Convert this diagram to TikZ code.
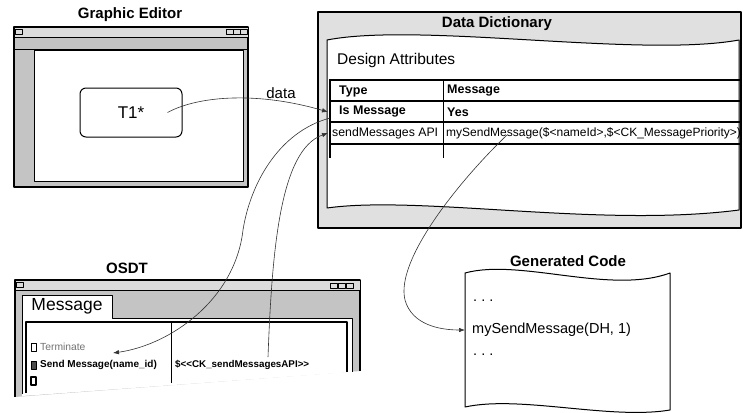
\documentclass[tikz,border=0pt]{standalone}
\usepackage{fontspec}
\setmainfont{Liberation Sans}
\usetikzlibrary{arrows.meta}

\begin{document}
\begin{tikzpicture}[x=1pt,y=-1pt, line join=round, font=\fontsize{12.5}{14}\selectfont,
    title/.style={font=\fontsize{15}{17}\selectfont\bfseries},
    cell/.style={anchor=west, inner sep=0pt},
    small/.style={anchor=west, inner sep=0pt, font=\fontsize{10.3}{12}\selectfont},
    link/.style={line width=0.6pt, draw=black!80, -{Latex[length=6pt,width=4.5pt]}}]
    \definecolor{winGray}{RGB}{196,196,196}
    \definecolor{barGray}{RGB}{220,220,220}
    \definecolor{dictGray}{RGB}{224,224,224}

    \newcommand{\winbtn}[2]{
        \draw[fill=barGray, line width=0.6pt] (#1,#2) rectangle ++(7,5);
    }

    \useasboundingbox (0,0) rectangle (743,412);

    % Graphic Editor window
    \node[title] (geTitle) at (130,15) {Graphic Editor};
    \draw[fill=winGray, line width=1.6pt] (14,27) rectangle (248,187);
    \draw[fill=barGray, line width=0.8pt] (14,27) rectangle (248,37);
    \draw[line width=0.8pt] (14,49) -- (248,49);
    \draw[fill=white, line width=0.8pt] (34,50) rectangle (243,181);
    \winbtn{15}{29}
    \foreach \x in {226,233,240} {\winbtn{\x}{29}}
    \node[draw, rounded corners=6pt, line width=1pt, minimum width=102pt, minimum height=49pt,
          font=\fontsize{17}{19}\selectfont] (t1) at (131,112.5) {T1*};

    % Data Dictionary
    \draw[fill=dictGray, line width=1.6pt] (318,12) rectangle (741,228);
    \node[title] (ddTitle) at (497,24) {Data Dictionary};
    \draw[fill=white, line width=1pt] (327,40) .. controls (420,22) and (640,58) .. (739,40)
        -- (739,210) .. controls (600,228) and (420,195) .. (327,208) -- cycle;
    \node[cell, font=\fontsize{15.5}{17}\selectfont] (designAttr) at (337,60) {Design Attributes};

    \foreach \y in {80,101,122,144} {\draw[line width=1.1pt] (330,\y) -- (741,\y);}
    \draw[line width=2.4pt] (330,79) -- (330,158);
    \draw[line width=1pt] (443,80) -- (443,158);
    \node[cell, font=\fontsize{12.5}{14}\selectfont\bfseries] (typeHd) at (339,91) {Type};
    \node[cell, font=\fontsize{12.5}{14}\selectfont\bfseries] (msgHd) at (447,91) {Message};
    \node[cell, font=\fontsize{12.5}{14}\selectfont\bfseries] (isMsg) at (339,112) {Is Message};
    \node[cell, font=\fontsize{12.5}{14}\selectfont\bfseries] (isYes) at (447,112) {Yes};
    \node[cell, font=\fontsize{12.3}{14}\selectfont] (sendApi) at (332,133) {sendMessages API};
    \node[cell, font=\fontsize{12}{14}\selectfont] (apiVal) at (446,133)
        {mySendMessage(\$<nameId>,\$<CK\_MessagePriority>)};

    % OSDT window
    \node[title] (osdtTitle) at (127,268) {OSDT};
    \fill[winGray] (15,280) -- (360,280) -- (360,371) -- (15,397) -- cycle;
    \fill[white] (22,318) -- (22,295) -- (112,295) -- (112,318) -- (352,318)
        -- (352,372) -- (22,396) -- cycle;
    \draw[line width=1.6pt] (15,397) -- (15,280) -- (360,280) -- (360,371);
    \draw[fill=barGray, line width=0.8pt] (15,280) rectangle (360,290);
    \winbtn{16}{282}
    \foreach \x in {330,338,346} {\winbtn{\x}{283}}
    \draw[line width=0.8pt] (22,394) -- (22,295) -- (112,295) -- (112,318) -- (352,318) -- (352,372);
    \node[font=\fontsize{17.5}{19}\selectfont] (tabMsg) at (67,306) {Message};
    \draw[line width=1.2pt] (26,393) -- (26,322) -- (347,322) -- (347,372);
    \draw[line width=0.9pt] (171,322) -- (171,383);

    \draw[line width=0.8pt] (31,343) rectangle (36,351);
    \node[small, text=black!55] (termItem) at (40,347) {Terminate};
    \draw[fill=black!70, line width=0.8pt] (31,361) rectangle (36,369);
    \node[small, font=\fontsize{10}{12}\selectfont\bfseries] (sendItem) at (40,365) {Send Message(name\_id)};
    \draw[line width=1.2pt] (31,377) rectangle (36,385);
    \node[small, font=\fontsize{9.8}{12}\selectfont\bfseries] (ckApi) at (175,365) {\$<{}<CK\_sendMessagesAPI>{}>};

    % Generated Code
    \node[title] (gcTitle) at (568,261) {Generated Code};
    \draw[fill=white, line width=1pt] (465,273) .. controls (520,258) and (610,295) .. (670,273)
        -- (670,410) .. controls (610,420) and (520,395) .. (465,407) -- cycle;
    \node[cell, font=\fontsize{14.5}{16}\selectfont] (dotsTop) at (473,301) {.\ .\ .};
    \node[anchor=west, inner xsep=7pt, inner ysep=0pt, font=\fontsize{14.5}{16}\selectfont]
        (gcCall) at (465,330) {mySendMessage(DH, 1)};
    \node[cell, font=\fontsize{14.5}{16}\selectfont] (dotsBot) at (473,355) {.\ .\ .};

    % connectors
    \coordinate (isIn) at (328,112);
    \coordinate (isOut) at (330,118);
    \coordinate (sendIn) at (328,133);
    \coordinate (apiOut) at (507,135);
    \coordinate (ckOut) at (268,357);
    \coordinate (sendMark) at (113,353);

    \draw[link] ([xshift=-15pt]t1.east) .. controls (200,95) and (260,92) .. (isIn);
    \node[font=\fontsize{15}{17}\selectfont] (dataLbl) at (281,93) {data};
    \draw[link] (isOut) .. controls (278,132) and (250,185) .. (243,230)
        .. controls (235,300) and (170,345) .. (sendMark);
    \draw[link] (ckOut) .. controls (272,250) and (280,150) .. (sendIn);
    \draw[link] (apiOut) .. controls (460,180) and (395,260) .. (405,300)
        .. controls (412,325) and (440,330) .. (gcCall.west);
\end{tikzpicture}
\end{document}
